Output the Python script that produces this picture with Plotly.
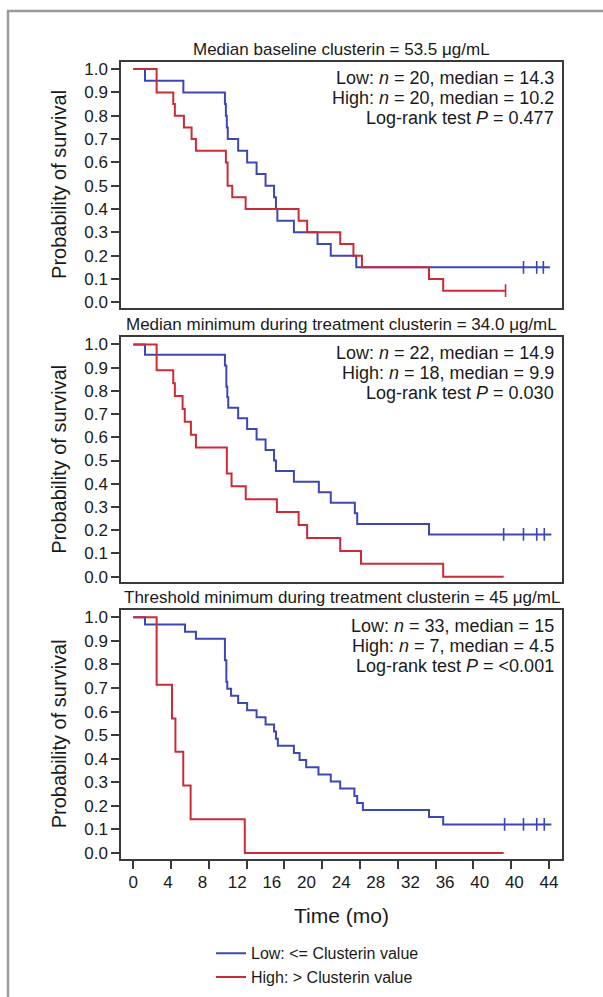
import numpy as np
import plotly.graph_objects as go

FONT = "Liberation Sans, Arial, Helvetica, sans-serif"
TXT = "#1a1a1a"
BLUE = "#3d47b3"
RED = "#cc2b36"

# ---------------- data ----------------
# Panel 1: median baseline clusterin
p1_low_t = [0, 1.24, 5.3, 9.7, 9.8, 9.9, 10.0, 11.1, 12.05, 13.05, 14.0, 14.9, 15.1, 15.25, 17.0, 19.5, 20.9, 23.6]
p1_low_s = [1.0, 0.95, 0.90, 0.85, 0.80, 0.75, 0.70, 0.65, 0.60, 0.55, 0.50, 0.45, 0.40, 0.35, 0.30, 0.25, 0.20, 0.15]
p1_low_end = 44.1
p1_low_cens = [41.3, 42.7, 43.4]
p1_high_t = [0, 2.47, 4.23, 4.4, 5.36, 6.17, 6.63, 9.8, 9.98, 10.47, 11.89, 17.5, 18.4, 21.9, 23.3, 24.2, 31.3, 32.8]
p1_high_s = [1.0, 0.90, 0.85, 0.80, 0.75, 0.70, 0.65, 0.60, 0.50, 0.45, 0.40, 0.35, 0.30, 0.25, 0.20, 0.15, 0.10, 0.05]
p1_high_end = 39.4
p1_high_cens = [39.4]

# Panel 2: median minimum during treatment clusterin
p2_low_t = [0, 1.24, 9.7, 9.85, 9.95, 10.05, 11.1, 12.05, 13.05, 14.0, 14.9, 15.1, 17.0, 19.64, 20.9, 23.45, 23.7, 31.3]
p2_low_s = [1.0, 0.955, 0.909, 0.818, 0.773, 0.727, 0.682, 0.636, 0.591, 0.545, 0.5, 0.455, 0.409, 0.364, 0.318, 0.273, 0.227, 0.182]
p2_low_end = 44.25
p2_low_cens = [39.2, 41.3, 42.7, 43.5]
p2_high_t = [0, 2.47, 4.23, 4.4, 5.22, 5.45, 6.1, 6.63, 9.9, 10.4, 11.9, 15.2, 17.5, 18.4, 21.9, 24.1, 32.8]
p2_high_s = [1.0, 0.889, 0.833, 0.778, 0.722, 0.667, 0.611, 0.556, 0.444, 0.389, 0.333, 0.278, 0.222, 0.167, 0.111, 0.056, 0.0]
p2_high_end = 39.2
p2_high_cens = []

# Panel 3: threshold minimum during treatment clusterin
p3_low_t = [0, 1.24, 5.47, 6.63, 9.7, 9.85, 9.95, 10.35, 11.1, 12.05, 13.05, 14.0, 14.9, 15.1, 15.3, 17.0, 17.6,
            18.3, 19.6, 20.9, 21.9, 23.4, 23.7, 24.3, 31.3, 32.8]
p3_low_s = [1.0, 0.970, 0.939, 0.909, 0.818, 0.727, 0.697, 0.667, 0.636, 0.606, 0.576, 0.545, 0.515, 0.485, 0.455,
            0.424, 0.394, 0.364, 0.333, 0.303, 0.273, 0.242, 0.212, 0.182, 0.152, 0.121]
p3_low_end = 44.25
p3_low_cens = [39.3, 41.3, 42.7, 43.5]
p3_high_t = [0, 2.47, 4.1, 4.46, 5.29, 6.07, 11.8]
p3_high_s = [1.0, 0.714, 0.571, 0.429, 0.286, 0.143, 0.0]
p3_high_end = 39.2
p3_high_cens = []

panel_titles = [
    "Median baseline clusterin = 53.5 \u03bcg/mL",
    "Median minimum during treatment clusterin = 34.0 \u03bcg/mL",
    "Threshold minimum during treatment clusterin = 45 \u03bcg/mL",
]
panel_texts = [
    ["Low: <i>n</i> = 20, median = 14.3", "High: <i>n</i> = 20, median = 10.2", "Log-rank test <i>P</i> = 0.477"],
    ["Low: <i>n</i> = 22, median = 14.9", "High: <i>n</i> = 18, median = 9.9", "Log-rank test <i>P</i> = 0.030"],
    ["Low: <i>n</i> = 33, median = 15", "High: <i>n</i> = 7, median = 4.5", "Log-rank test <i>P</i> = &lt;0.001"],
]
y_ticks = [0.0, 0.1, 0.2, 0.3, 0.4, 0.5, 0.6, 0.7, 0.8, 0.9, 1.0]
x_ticks = [0, 4, 8, 12, 16, 20, 24, 28, 32, 36, 40, 44]
x_ticklabels = ["0", "4", "8", "12", "16", "20", "24", "28", "32", "36", "40", "40", "44"]
legend_names = ["Low: &lt;= Clusterin value", "High: &gt; Clusterin value"]
y_title = "Probability of survival"
x_title = "Time (mo)"

panels = [
    (p1_low_t, p1_low_s, p1_low_end, p1_low_cens, p1_high_t, p1_high_s, p1_high_end, p1_high_cens),
    (p2_low_t, p2_low_s, p2_low_end, p2_low_cens, p2_high_t, p2_high_s, p2_high_end, p2_high_cens),
    (p3_low_t, p3_low_s, p3_low_end, p3_low_cens, p3_high_t, p3_high_s, p3_high_end, p3_high_cens),
]

# ---------------- layout geometry ----------------
W, H = 603, 997
x_dom = [121 / W, 562 / W]
boxes = [(60, 308), (337, 584), (611.5, 862)]  # top, bottom in px
y_doms = [[1 - b / H, 1 - t / H] for t, b in boxes]
X_RANGE = [-1.3, 45.375]
Y_RANGE = [-0.025, 1.032]

fig = go.Figure()


def km_xy(times, surv, end):
    return list(times) + [end], list(surv) + [surv[-1]]


def cens_y(times, surv, cens):
    t = np.asarray(times)
    s = np.asarray(surv)
    return [float(s[np.searchsorted(t, c, side="right") - 1]) for c in cens]


for i, (lt, ls, le, lc, ht, hs, he, hc) in enumerate(panels):
    xa = "x" if i == 0 else f"x{i+1}"
    ya = "y" if i == 0 else f"y{i+1}"
    for (t, s, e, c, col, name) in [(lt, ls, le, lc, BLUE, legend_names[0]),
                                    (ht, hs, he, hc, RED, legend_names[1])]:
        xs, ys = km_xy(t, s, e)
        fig.add_trace(go.Scatter(
            x=xs, y=ys, mode="lines", line=dict(color=col, width=2, shape="hv"),
            name=name, legendgroup=name, showlegend=(i == 0),
            xaxis=xa, yaxis=ya, hoverinfo="skip"))
        if c:
            fig.add_trace(go.Scatter(
                x=c, y=cens_y(t, s, c), mode="markers",
                marker=dict(symbol="line-ns", size=9, line=dict(color=col, width=1.6)),
                legendgroup=name, showlegend=False, xaxis=xa, yaxis=ya, hoverinfo="skip"))

# dummy trace for the label axis overlaying the bottom x axis
fig.add_trace(go.Scatter(x=[], y=[], xaxis="x4", yaxis="y3", showlegend=False))

axis_common = dict(showline=True, mirror=True, linecolor="#3a3a3a", linewidth=1.5,
                   showgrid=False, zeroline=False)
layout = {}
for i in range(3):
    xk = "xaxis" if i == 0 else f"xaxis{i+1}"
    yk = "yaxis" if i == 0 else f"yaxis{i+1}"
    ya = "y" if i == 0 else f"y{i+1}"
    xa = "x" if i == 0 else f"x{i+1}"
    xd = dict(axis_common, domain=x_dom, anchor=ya, range=X_RANGE, showticklabels=False, ticks="")
    if i == 2:
        xd.update(ticks="outside", tickvals=x_ticks, ticklen=8, tickwidth=1.5, tickcolor="#3a3a3a")
    layout[xk] = xd
    layout[yk] = dict(axis_common, domain=y_doms[i], anchor=xa, range=Y_RANGE,
                      tickvals=y_ticks, tickformat=".1f", ticks="outside", ticklen=8,
                      tickwidth=1.5, tickcolor="#3a3a3a",
                      tickfont=dict(family=FONT, size=17, color=TXT))

layout["xaxis4"] = dict(overlaying="x3", anchor="y3", range=X_RANGE, showline=False, showgrid=False,
                        zeroline=False, tickvals=list(np.linspace(0, 44, len(x_ticklabels))),
                        ticktext=x_ticklabels, ticks="outside", ticklen=8,
                        tickcolor="rgba(0,0,0,0)", side="bottom",
                        tickfont=dict(family=FONT, size=17, color=TXT))

annotations = []
for i in range(3):
    xa = "x" if i == 0 else f"x{i+1}"
    ya = "y" if i == 0 else f"y{i+1}"
    annotations.append(dict(text=panel_titles[i], x=0.5, xref=f"{xa} domain", y=1, yref=f"{ya} domain",
                            yanchor="middle", yshift=12, showarrow=False,
                            font=dict(family=FONT, size=17, color=TXT)))
    for k, line in enumerate(panel_texts[i]):
        annotations.append(dict(text=line, x=1, xref=f"{xa} domain", xanchor="right", xshift=-6,
                                y=1, yref=f"{ya} domain", yanchor="middle", yshift=-(16.5 + 20 * k),
                                showarrow=False, font=dict(family=FONT, size=18, color=TXT)))
    annotations.append(dict(text=y_title, textangle=-90, x=59 / W, xref="paper", xanchor="center",
                            y=0.5, yref=f"{ya} domain", yanchor="middle", showarrow=False,
                            font=dict(family=FONT, size=20, color=TXT)))

annotations.append(dict(text=x_title, x=0.5, xref="x3 domain", y=1 - 919 / H, yref="paper",
                        yanchor="middle", showarrow=False, font=dict(family=FONT, size=21, color=TXT)))

fig.update_layout(
    width=W, height=H, autosize=False,
    margin=dict(l=0, r=0, t=0, b=0, pad=0),
    paper_bgcolor="white", plot_bgcolor="white",
    font=dict(family=FONT, color=TXT),
    annotations=annotations,
    shapes=[dict(type="rect", xref="paper", yref="paper", x0=8 / W, x1=1.05, y0=-0.05, y1=1 - 9 / H,
                 line=dict(color="#9a9a9a", width=2.5), layer="below")],
    legend=dict(x=(252 - 41) / W, xanchor="left", y=1 - 940 / H, yanchor="top",
                font=dict(family=FONT, size=16, color=TXT), bgcolor="rgba(0,0,0,0)",
                borderwidth=0, tracegroupgap=0, itemclick=False),
    showlegend=True,
    **layout,
)

fig.write_html("out.html")
